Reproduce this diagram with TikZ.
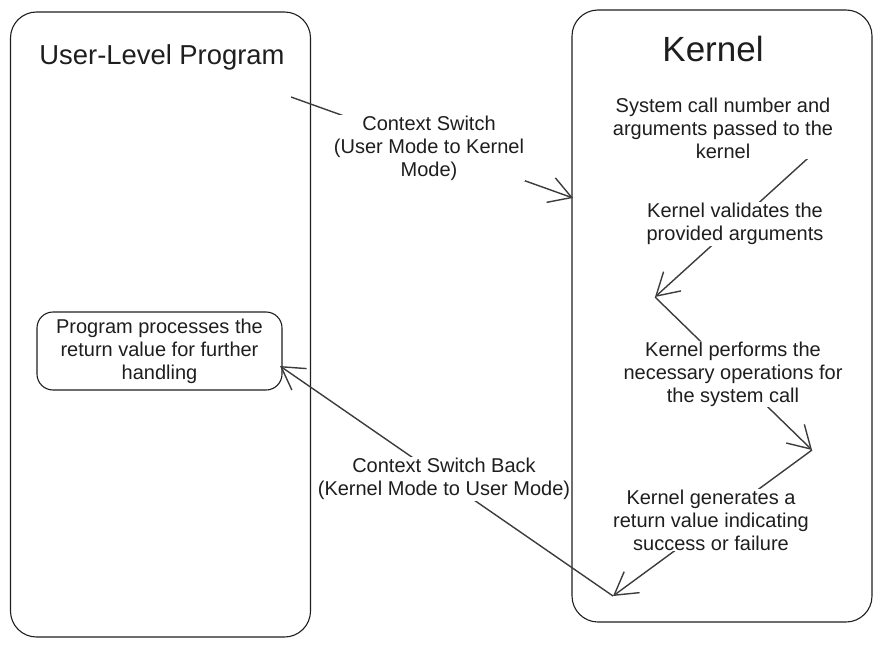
\documentclass[tikz,border=0pt]{standalone}
\usepackage{fontspec}
\setmainfont{Liberation Sans}
\usetikzlibrary{arrows.meta}
\definecolor{ink}{HTML}{1E1E1E}
\definecolor{wire}{HTML}{3C3C3C}
\tikzset{
	bigbox/.style={draw=ink, line width=1.1pt, rounded corners=26pt, minimum width=300pt},
	smallbox/.style={draw=ink, line width=1.1pt, rounded corners=16pt, minimum width=245pt,
		minimum height=78pt, align=center, text=ink, font=\fontsize{20}{23}\selectfont},
	txt/.style={text=ink, fill=white, inner sep=1pt, align=center, font=\fontsize{20}{23}\selectfont},
	heading/.style={text=ink, inner sep=0pt, font=\fontsize{27.4}{30}\selectfont},
	flow/.style={draw=wire, line width=1.4pt, -{Straight Barb[length=22pt,width=26pt]}}
}
\begin{document}
\begin{tikzpicture}[x=1pt,y=-1pt]
	\useasboundingbox (0,0) rectangle (882,647);
	% Frames
	\node[bigbox, minimum height=625pt] (user) at (160.5,324.5) {};
	\node[bigbox, minimum height=612pt] (kernel) at (722,316) {};
	% Titles
	\node[heading] (usertitle) at (162,57) {User-Level Program};
	\node[heading, font=\fontsize{35}{40}\selectfont] (kerneltitle) at (713,49) {Kernel};
	% Return handling box
	\node[smallbox] (process) at (159.5,351) {Program processes the\\return value for further\\handling};
	% Bends of the call path
	\coordinate (trap) at (291,97);
	\coordinate (entry) at (573,198);
	\coordinate (argsout) at (817,150);
	\coordinate (bendA) at (655,297);
	\coordinate (bendB) at (812,450);
	\coordinate (bendC) at (613,596);
	\coordinate (back) at (280,366);
	% Call path
	\draw[flow] (trap) -- (entry);
	\draw[flow] (argsout) -- (bendA);
	\draw[flow] (bendA) -- (bendB);
	\draw[flow] (bendB) -- (bendC);
	\draw[flow] (bendC) -- (back);
	% Step texts
	\node[txt] (ctxsw) at (429,148) {Context Switch\\(User Mode to Kernel\\Mode)};
	\node[txt] (sysnum) at (723,128) {System call number and\\arguments passed to the\\kernel};
	\node[txt] (validate) at (735,224) {Kernel validates the\\provided arguments};
	\node[txt] (perform) at (733,374) {Kernel performs the\\necessary operations for\\the system call};
	\node[txt] (genret) at (711,520) {Kernel generates a\\return value indicating\\success or failure};
	\node[txt] (ctxback) at (444,479) {Context Switch Back\\(Kernel Mode to User Mode)};
\end{tikzpicture}
\end{document}
